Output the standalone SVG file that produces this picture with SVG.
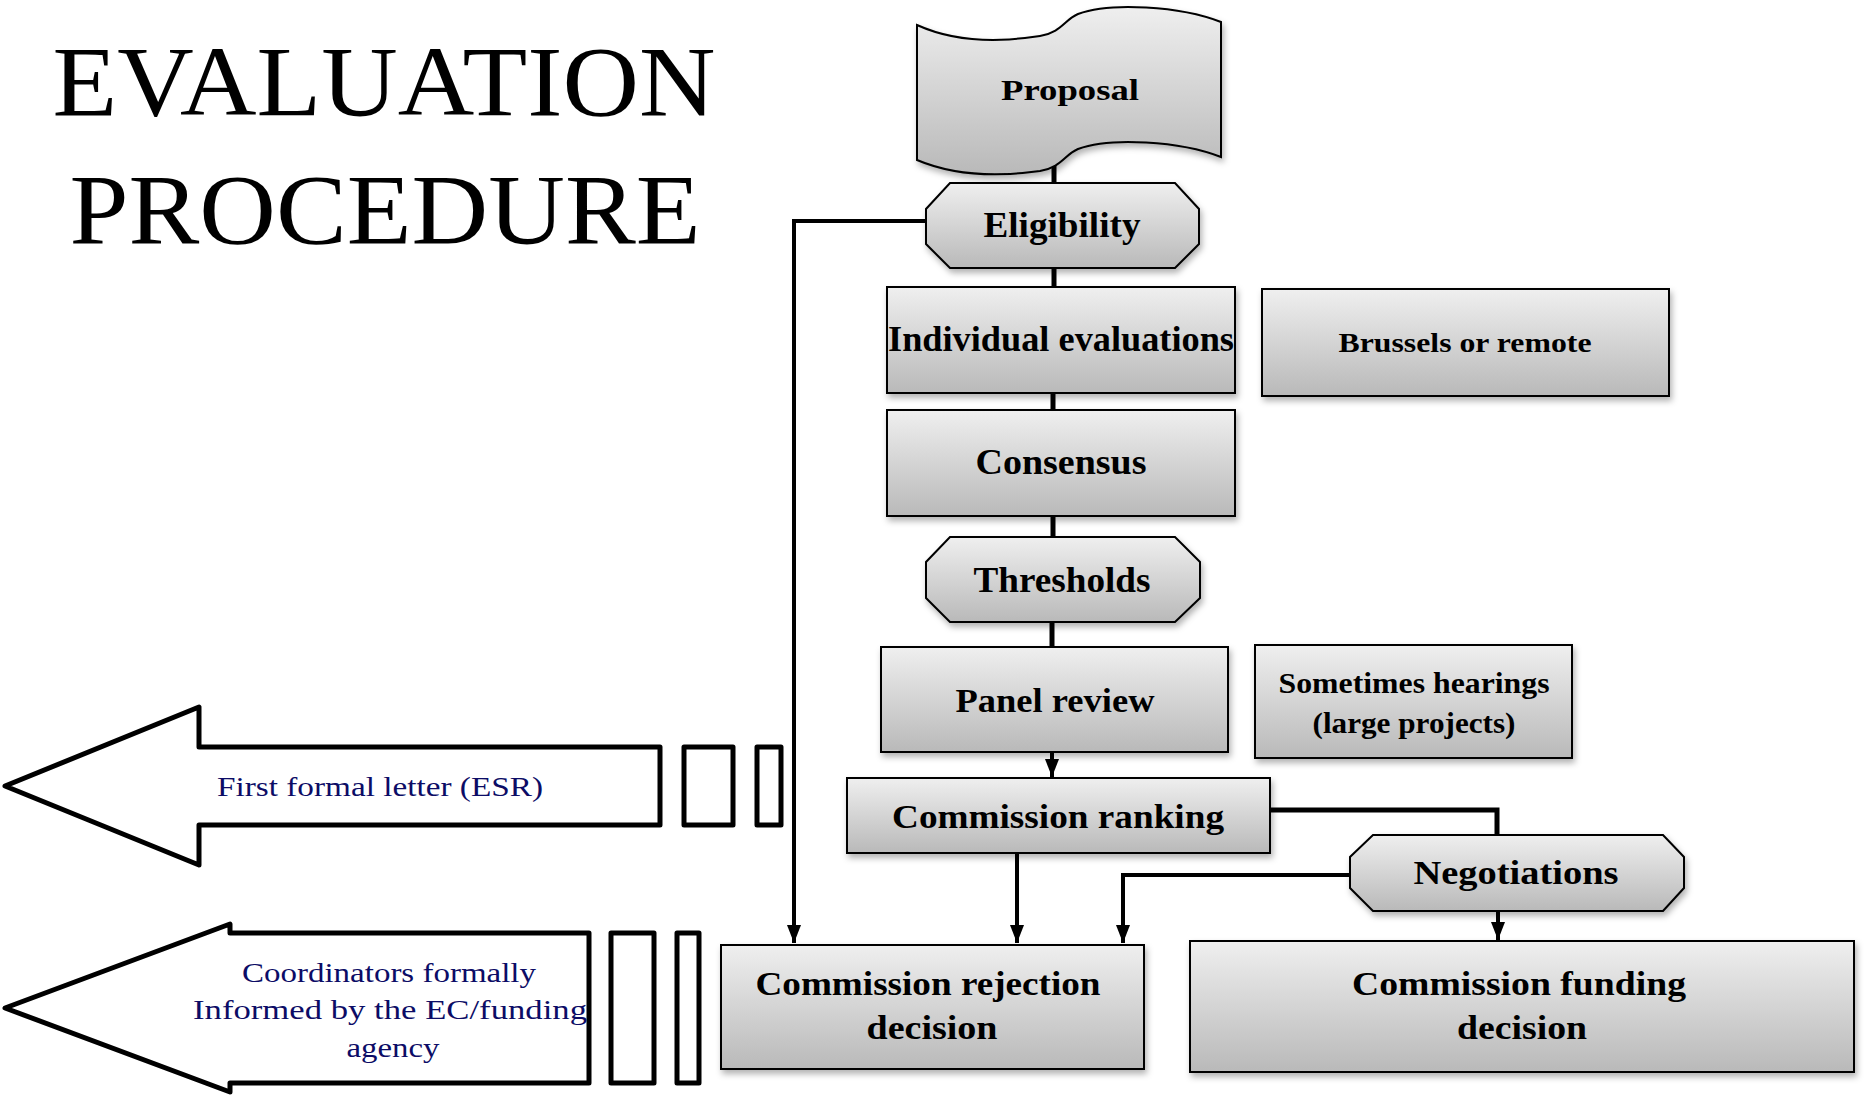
<svg xmlns="http://www.w3.org/2000/svg" width="1864" height="1096" viewBox="0 0 1864 1096">
<style>
.box{fill:url(#g);stroke:#000;stroke-width:2;filter:url(#sh)}
.t{font-family:"Liberation Serif","Times New Roman",serif;font-weight:bold;fill:#000;text-anchor:middle}
.n{font-family:"Liberation Serif","Times New Roman",serif;fill:#0c0c66;text-anchor:middle;font-size:28px}
.title{font-family:"Liberation Serif","Times New Roman",serif;fill:#000;text-anchor:middle;font-size:100px}
.c{fill:none;stroke:#000;stroke-width:5}
.ca{fill:none;stroke:#000;stroke-width:4;marker-end:url(#ah)}
.o{fill:#fff;stroke:#000;stroke-width:5;stroke-linejoin:round}
</style>
<defs>
<linearGradient id="g" x1="0" y1="0" x2="0" y2="1">
<stop offset="0" stop-color="#efefef"/>
<stop offset="1" stop-color="#b9b9b9"/>
</linearGradient>
<filter id="sh" x="-10%" y="-10%" width="120%" height="130%">
<feDropShadow dx="2" dy="4" stdDeviation="3" flood-color="#000" flood-opacity="0.3"/>
</filter>
<marker id="ah" markerWidth="18" markerHeight="14" refX="18" refY="7" orient="auto" markerUnits="userSpaceOnUse">
<path d="M0,0 L18,7 L0,14 z" fill="#000"/>
</marker>
</defs>

<g id="title">
<text class="title" x="384" y="115" textLength="663" lengthAdjust="spacingAndGlyphs">EVALUATION</text>
<text class="title" x="385" y="243" textLength="631" lengthAdjust="spacingAndGlyphs">PROCEDURE</text>
</g>

<g id="connectors">
<path class="c" d="M1054,150 V190"/>
<path class="c" d="M1054,260 V295"/>
<path class="c" d="M1053,385 V415"/>
<path class="c" d="M1053,510 V545"/>
<path class="c" d="M1052,615 V655"/>
<path class="ca" d="M1052,745 V777"/>
<path class="ca" d="M930,221 H794 V943"/>
<path class="ca" d="M1017,850 V943"/>
<path class="c" d="M1265,810 H1497 V840"/>
<path class="ca" d="M1355,875 H1123 V943"/>
<path class="ca" d="M1498,905 V940"/>
</g>

<g id="proposal">
<path class="box" d="M917,25 C950,40 990,44 1040,36 C1062,32 1064,20 1078,14 C1110,2 1180,6 1221,22 L1221,157 C1180,141 1110,137 1078,149 C1064,155 1062,167 1040,171 C990,178 950,174 917,160 Z"/>
<text class="t" x="1070" y="100" font-size="30" textLength="138" lengthAdjust="spacingAndGlyphs">Proposal</text>
</g>

<g id="eligibility">
<polygon class="box" points="950,183 1175,183 1199,209 1199,244 1175,268 950,268 926,244 926,209"/>
<text class="t" x="1062" y="237" font-size="35" textLength="157" lengthAdjust="spacingAndGlyphs">Eligibility</text>
</g>

<g id="individual">
<rect class="box" x="887" y="287" width="348" height="106"/>
<text class="t" x="1061" y="351" font-size="35" textLength="346" lengthAdjust="spacingAndGlyphs">Individual evaluations</text>
</g>

<g id="brussels">
<rect class="box" x="1262" y="289" width="407" height="107"/>
<text class="t" x="1465" y="352" font-size="28" textLength="253" lengthAdjust="spacingAndGlyphs">Brussels or remote</text>
</g>

<g id="consensus">
<rect class="box" x="887" y="410" width="348" height="106"/>
<text class="t" x="1061" y="474" font-size="35" textLength="171" lengthAdjust="spacingAndGlyphs">Consensus</text>
</g>

<g id="thresholds">
<polygon class="box" points="950,537 1175,537 1200,562 1200,598 1175,622 950,622 926,598 926,562"/>
<text class="t" x="1062" y="592" font-size="35" textLength="177" lengthAdjust="spacingAndGlyphs">Thresholds</text>
</g>

<g id="panel">
<rect class="box" x="881" y="647" width="347" height="105"/>
<text class="t" x="1055" y="712" font-size="34" textLength="199" lengthAdjust="spacingAndGlyphs">Panel review</text>
</g>

<g id="hearings">
<rect class="box" x="1255" y="645" width="317" height="113"/>
<text class="t" x="1414" y="693" font-size="29" textLength="271" lengthAdjust="spacingAndGlyphs">Sometimes hearings</text>
<text class="t" x="1414" y="733" font-size="29" textLength="203" lengthAdjust="spacingAndGlyphs">(large projects)</text>
</g>

<g id="ranking">
<rect class="box" x="847" y="778" width="423" height="75"/>
<text class="t" x="1058" y="828" font-size="34" textLength="332" lengthAdjust="spacingAndGlyphs">Commission ranking</text>
</g>

<g id="negotiations">
<polygon class="box" points="1373,835 1663,835 1684,857 1684,888 1663,911 1373,911 1350,888 1350,857"/>
<text class="t" x="1516" y="884" font-size="33" textLength="205" lengthAdjust="spacingAndGlyphs">Negotiations</text>
</g>

<g id="rejection">
<rect class="box" x="721" y="945" width="423" height="124"/>
<text class="t" x="928" y="995" font-size="33" textLength="345" lengthAdjust="spacingAndGlyphs">Commission rejection</text>
<text class="t" x="932" y="1039" font-size="33" textLength="131" lengthAdjust="spacingAndGlyphs">decision</text>
</g>

<g id="funding">
<rect class="box" x="1190" y="941" width="664" height="131"/>
<text class="t" x="1519" y="995" font-size="33" textLength="334" lengthAdjust="spacingAndGlyphs">Commission funding</text>
<text class="t" x="1522" y="1039" font-size="33" textLength="130" lengthAdjust="spacingAndGlyphs">decision</text>
</g>

<g id="esr-arrow">
<polygon class="o" points="5,786 199,707 199,747 660,747 660,825 199,825 199,865"/>
<rect class="o" x="684" y="747" width="49" height="78" stroke-linejoin="miter"/>
<rect class="o" x="757" y="747" width="24" height="78"/>
<text class="n" x="380" y="796" textLength="326" lengthAdjust="spacingAndGlyphs">First formal letter (ESR)</text>
</g>

<g id="inform-arrow">
<polygon class="o" points="5,1008 230,924 230,933 589,933 589,1083 230,1083 230,1092"/>
<rect class="o" x="611" y="933" width="43" height="150"/>
<rect class="o" x="677" y="933" width="22" height="150"/>
<text class="n" x="389" y="982" textLength="294" lengthAdjust="spacingAndGlyphs">Coordinators formally</text>
<text class="n" x="390" y="1019" textLength="394" lengthAdjust="spacingAndGlyphs">Informed by the EC/funding</text>
<text class="n" x="393" y="1057" textLength="93" lengthAdjust="spacingAndGlyphs">agency</text>
</g>
</svg>
